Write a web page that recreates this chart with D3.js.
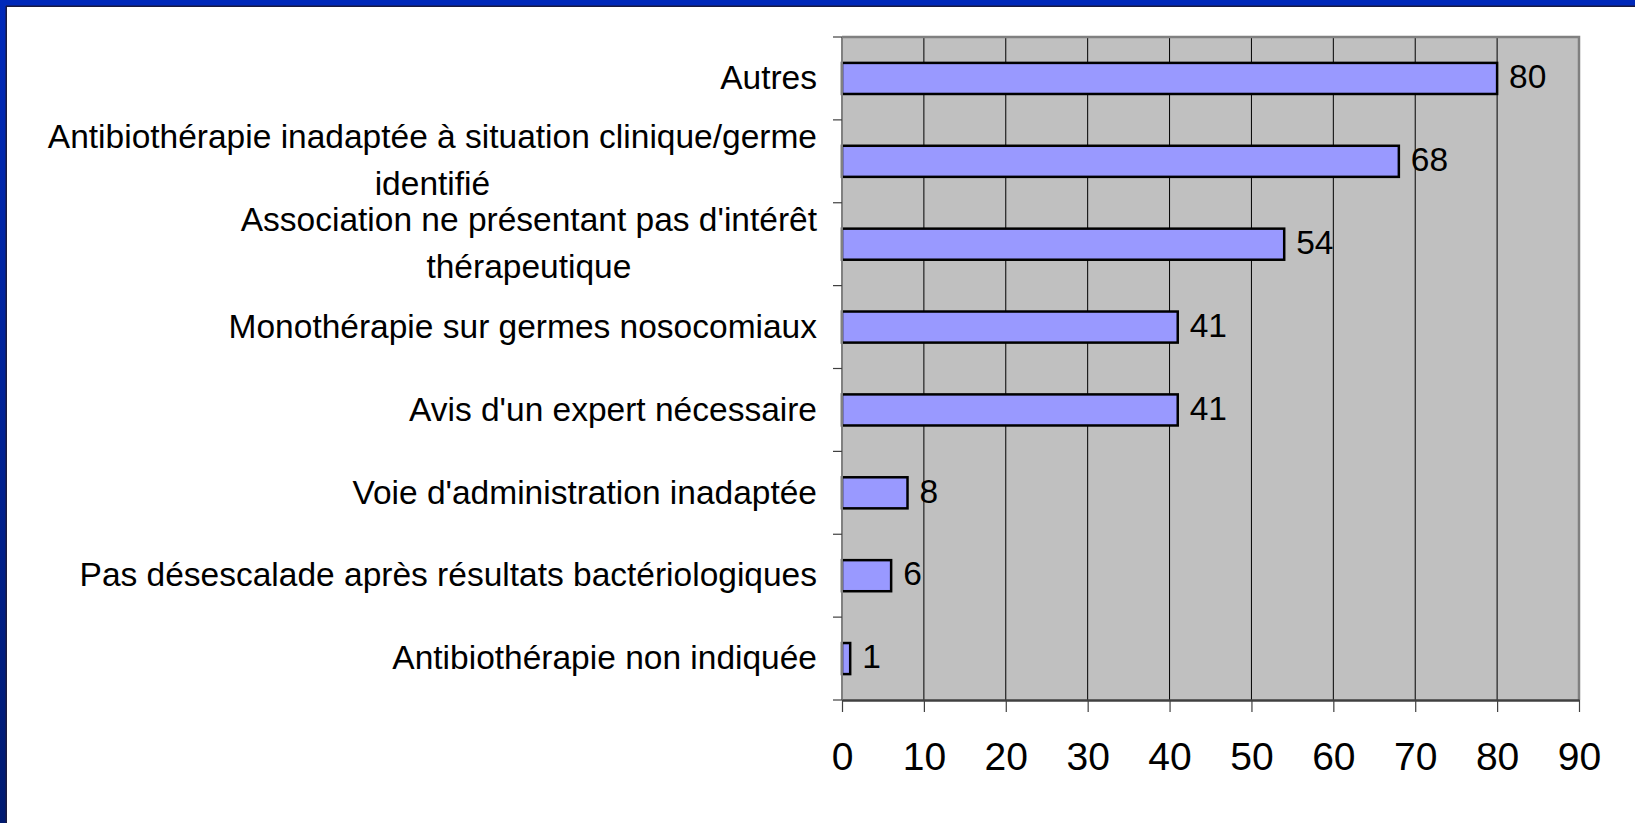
<!DOCTYPE html>
<html>
<head>
<meta charset="utf-8">
<script src="https://cdn.jsdelivr.net/npm/d3@7"></script>
<style>
  html, body { margin: 0; padding: 0; background: #fff; }
  svg { display: block; }
  text { font-family: "Liberation Sans", Arial, sans-serif; fill: #000; }
</style>
</head>
<body>
<div class="chart"></div>
<script>
//// data

const categories = [
    'Autres',
    'Antibiothérapie inadaptée à situation clinique/germe identifié',
    "Association ne présentant pas d'intérêt thérapeutique",
    'Monothérapie sur germes nosocomiaux',
    "Avis d'un expert nécessaire",
    "Voie d'administration inadaptée",
    'Pas désescalade après résultats bactériologiques',
    'Antibiothérapie non indiquée'
];
const values = [80, 68, 54, 41, 41, 8, 6, 1];
// how the long labels wrap in the original
const labelLines = [
    ['Autres'],
    ['Antibiothérapie inadaptée à situation clinique/germe', 'identifié'],
    ["Association ne présentant pas d'intérêt", 'thérapeutique'],
    ['Monothérapie sur germes nosocomiaux'],
    ["Avis d'un expert nécessaire"],
    ["Voie d'administration inadaptée"],
    ['Pas désescalade après résultats bactériologiques'],
    ['Antibiothérapie non indiquée']
];
const xTicks = [0, 10, 20, 30, 40, 50, 60, 70, 80, 90];

const W = 1635, H = 823;

const svg = d3.select('.chart')
    .append('svg')
    .attr('width', W)
    .attr('height', H);

// blue slide frame (only top + left are visible in the crop)
const defs = svg.append('defs');
const grad = defs.append('linearGradient')
    .attr('id', 'frameGrad')
    .attr('x1', 0).attr('y1', 0).attr('x2', 0).attr('y2', 1);
grad.append('stop').attr('offset', '0%').attr('stop-color', '#0029BA');
grad.append('stop').attr('offset', '100%').attr('stop-color', '#001A70');

svg.append('rect').attr('x', 0).attr('y', 0).attr('width', W).attr('height', 6)
    .attr('fill', '#0029BA');
svg.append('rect').attr('x', 0).attr('y', 0).attr('width', 6).attr('height', H)
    .attr('fill', 'url(#frameGrad)');
svg.append('rect').attr('x', 6).attr('y', 5.5).attr('width', W).attr('height', 1.5)
    .attr('fill', '#1a1a40');
svg.append('rect').attr('x', 5.5).attr('y', 6).attr('width', 1.5).attr('height', H)
    .attr('fill', '#1a1a40');

//// scales

const plotL = 842, plotR = 1579, plotT = 37, plotB = 700;
const labelX = 817;
const labelSize = '33.5px';

const x = d3.scaleLinear()
    .domain([0, 90])
    .range([plotL, plotR]);

const y = d3.scaleBand()
    .domain(categories)
    .range([plotT, plotB])
    .paddingInner(0.625)
    .paddingOuter(0.3125);

const step = y.step();

// plot background
svg.append('rect')
    .attr('x', plotL).attr('y', plotT)
    .attr('width', plotR - plotL).attr('height', plotB - plotT)
    .attr('fill', '#C0C0C0');

// gridlines
svg.append('g')
    .selectAll('line')
    .data(xTicks.filter(d => d > 0 && d < 90))
    .join('line')
    .attr('x1', d => x(d)).attr('x2', d => x(d))
    .attr('y1', plotT).attr('y2', plotB)
    .attr('stroke', '#000')
    .attr('stroke-width', 1);

// plot frame top / right
svg.append('path')
    .attr('d', `M${plotL},${plotT}H${plotR}V${plotB}`)
    .attr('fill', 'none')
    .attr('stroke', '#808080')
    .attr('stroke-width', 2.5);

// bars
const rows = categories.map((c, i) => ({cat: c, value: values[i], lines: labelLines[i]}));

svg.append('g')
    .selectAll('rect')
    .data(rows)
    .join('rect')
    .attr('x', x(0))
    .attr('y', d => y(d.cat))
    .attr('width', d => x(d.value) - x(0))
    .attr('height', y.bandwidth())
    .attr('fill', '#9999FF')
    .attr('stroke', '#000')
    .attr('stroke-width', 2.5);

// value labels
svg.append('g')
    .selectAll('text')
    .data(rows)
    .join('text')
    .attr('x', d => x(d.value) + 12)
    .attr('y', d => y(d.cat) + y.bandwidth() / 2 - 2)
    .attr('dy', '0.35em')
    .style('font-size', labelSize)
    .text(d => d.value);

// y axis: line + band ticks
const yAxisG = svg.append('g');
yAxisG.append('line')
    .attr('x1', plotL).attr('x2', plotL)
    .attr('y1', plotT).attr('y2', plotB)
    .attr('stroke', '#808080').attr('stroke-width', 2);
yAxisG.selectAll('line.tick')
    .data(d3.range(categories.length + 1))
    .join('line')
    .attr('class', 'tick')
    .attr('x1', plotL - 9).attr('x2', plotL)
    .attr('y1', i => plotT + i * step).attr('y2', i => plotT + i * step)
    .attr('stroke', '#404040').attr('stroke-width', 1.2);

// category labels
const labels = svg.append('g')
    .selectAll('text')
    .data(rows)
    .join('text')
    .attr('text-anchor', 'end')
    .style('font-size', labelSize);

labels.each(function(d) {
    const cy = y(d.cat) + y.bandwidth() / 2;
    const t = d3.select(this);
    if (d.lines.length === 1) {
        t.append('tspan')
            .attr('x', labelX)
            .attr('y', cy - 1)
            .attr('dy', '0.35em')
            .text(d.lines[0]);
    } else {
        // first line right-aligned, second centred under it (as in the picture)
        const first = t.append('tspan')
            .attr('x', labelX)
            .attr('y', cy - 25)
            .attr('dy', '0.35em')
            .text(d.lines[0]);
        const w1 = first.node().getComputedTextLength();
        t.append('tspan')
            .attr('x', labelX - w1 / 2)
            .attr('y', cy + 22)
            .attr('dy', '0.35em')
            .attr('text-anchor', 'middle')
            .text(d.lines[1]);
    }
});

// x axis
const xAxis = d3.axisBottom(x)
    .tickValues(xTicks)
    .tickSize(12)
    .tickPadding(30)
    .tickSizeOuter(0);

const xAxisG = svg.append('g')
    .attr('transform', `translate(0,${plotB})`)
    .call(xAxis);
xAxisG.select('.domain')
    .attr('stroke', '#404040')
    .attr('stroke-width', 2.5);
xAxisG.selectAll('.tick line')
    .attr('stroke', '#404040')
    .attr('stroke-width', 1.2);
xAxisG.selectAll('.tick text')
    .attr('fill', '#000')
    .style('font-family', '"Liberation Sans", Arial, sans-serif')
    .style('font-size', '39px');
</script>
</body>
</html>
